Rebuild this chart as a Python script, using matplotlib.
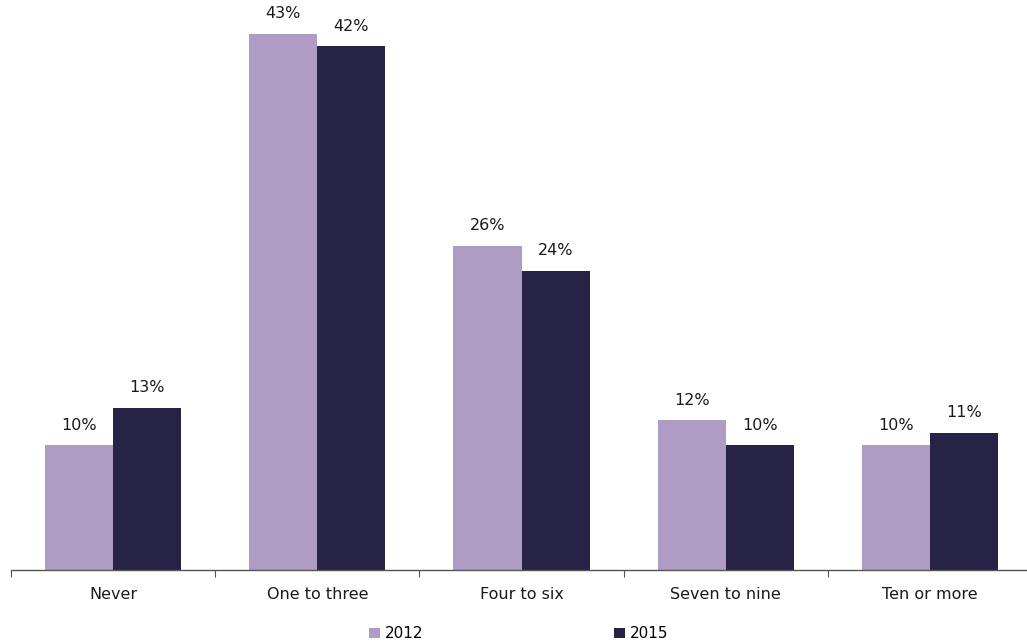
import numpy as np
import matplotlib.pyplot as plt
from matplotlib.patches import Patch

CATEGORIES = ["Never", "One to three", "Four to six", "Seven to nine", "Ten or more"]
YEARS = ["2012", "2015"]
VALUES_2012 = [10, 43, 26, 12, 10]
VALUES_2015 = [13, 42, 24, 10, 11]
COLORS = ["#ae9cc5", "#272347"]

plt.rcParams['font.family'] = ['DejaVu Sans']

fig = plt.figure(figsize=(10.27, 6.43), dpi=100)
ax = fig.add_axes([11 / 1027, 73 / 643, 1021 / 1027, 570 / 643])

x = np.arange(len(CATEGORIES))
width = 1 / 3

for i, (vals, color) in enumerate(zip([VALUES_2012, VALUES_2015], COLORS)):
    offset = (i - 0.5) * width
    rects = ax.bar(x + offset, vals, width, color=color, label=YEARS[i])
    for r, v in zip(rects, vals):
        ax.annotate(f"{v}%", (r.get_x() + r.get_width() / 2, v),
                    xytext=(0, 9), textcoords='offset points',
                    ha='center', va='bottom', fontsize=11.5, color='#1a1a1a')

ax.set_xlim(-0.5, len(CATEGORIES) - 0.5)
ax.set_ylim(0, 45.7)

# tick marks sit between the groups, labels under each group
ax.set_xticks(np.arange(len(CATEGORIES) + 1) - 0.5)
ax.set_xticklabels([])
ax.tick_params(axis='x', which='major', length=5, color='#555555', direction='out')
ax.set_xticks(x, minor=True)
ax.set_xticklabels(CATEGORIES, minor=True, fontsize=11.5, color='#1a1a1a')
ax.tick_params(axis='x', which='minor', length=0, pad=12)

ax.set_yticks([])
for side in ['top', 'right', 'left']:
    ax.spines[side].set_visible(False)
ax.spines['bottom'].set_color('#555555')
ax.spines['bottom'].set_linewidth(1.0)
ax.patch.set_alpha(0)

handles = [Patch(facecolor=c, edgecolor='none') for c in COLORS]
fig.legend(handles, YEARS, loc='center', bbox_to_anchor=(0.505, 0.014),
           ncol=2, frameon=False, fontsize=11, handlelength=0.7,
           handleheight=0.7, handletextpad=0.3, columnspacing=12.5)

plt.savefig('out.png', dpi=100)
